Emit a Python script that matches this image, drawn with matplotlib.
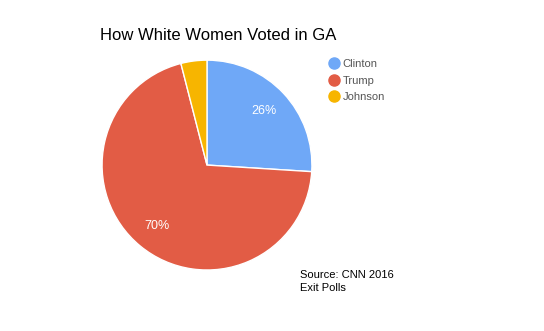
import matplotlib.pyplot as plt
from matplotlib.lines import Line2D

plt.rcParams['font.family'] = ['Liberation Sans', 'DejaVu Sans']

candidates = ['Clinton', 'Trump', 'Johnson']
shares = [26, 70, 4]
colors = ['#6fa8f7', '#e25c45', '#f7b500']

fig = plt.figure(figsize=(5.44, 3.31), dpi=100)
ax = fig.add_axes([0.1875, 0.1843, 0.386, 0.634])

wedges, texts, autotexts = ax.pie(
    shares, colors=colors, startangle=90, counterclock=False,
    autopct=lambda p: f'{p:.0f}%' if p >= 5 else '',
    pctdistance=0.75,
    wedgeprops=dict(edgecolor='white', linewidth=1),
    textprops=dict(color='white', fontsize=9),
)
ax.set_xlim(-1, 1)
ax.set_ylim(-1, 1)
ax.set_aspect('equal')

fig.text(100 / 544, 1 - 35 / 331, 'How White Women Voted in GA',
         fontsize=12, va='center', ha='left', color='black')

# legend on the right
handles = [Line2D([0], [0], marker='o', linestyle='', markersize=8,
                  markerfacecolor=c, markeredgecolor=c) for c in colors]
fig.legend(handles, candidates, loc='upper left',
           bbox_to_anchor=(317 / 544, 1 - 49 / 331), frameon=False,
           fontsize=8, labelcolor='#555555', handletextpad=0.2,
           labelspacing=0.6, handlelength=1.2)

fig.text(300 / 544, 1 - 275 / 331, 'Source: CNN 2016', fontsize=8,
         va='center', ha='left')
fig.text(300 / 544, 1 - 288 / 331, 'Exit Polls', fontsize=8,
         va='center', ha='left')

fig.savefig('out.png', dpi=100)
